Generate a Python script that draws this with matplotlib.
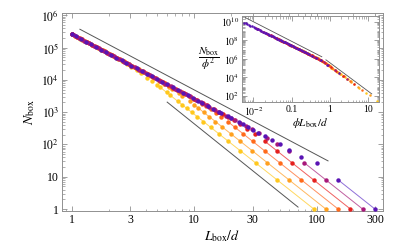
import numpy as np
import matplotlib
matplotlib.use("Agg")
import matplotlib.pyplot as plt
from matplotlib.ticker import LogLocator, NullFormatter

plt.rcParams['font.family'] = ['Liberation Serif', 'DejaVu Serif']
plt.rcParams['mathtext.fontset'] = 'stix'

# system size (L_box/d where N_box = 1) and volume fraction of each series
sizes = [95, 119, 150, 189, 238, 300]
phis = [0.186, 0.093, 0.0465, 0.0232, 0.0116, 0.0058]
colors = ['#FFC81E', '#FFA01E', '#FF6A1A', '#E4201E', '#A8187A', '#5A14B4']
line_colors = ['#FFD860', '#FFB860', '#FF9060', '#F06060', '#C060A0', '#9070D8']
# number of points (from N_box = 1) that sit on the full-occupancy line
n_full = [17, 12, 8, 5, 3, 2]

# box divisions per side (L_box = size / n)
div_small = [1, 2, 3, 4, 5, 6, 7, 8, 9, 10, 11, 12, 13, 15, 16, 18, 19, 21, 23,
             26, 28, 31, 34, 37, 41, 45, 50, 55, 61, 67, 73, 81, 89]
div_yellow = div_small + [95]
div_orange = div_small + [98, 108, 119]
div_orangered = div_small + [98, 108, 118, 130, 143, 150]
div_red = div_small + [98, 108, 118, 130, 143, 157, 173, 189]
div_magenta = div_small + [98, 108, 118, 130, 143, 157, 173, 190, 209, 230, 238]
div_purple = div_small + [98, 108, 118, 130, 143, 157, 173, 190, 209, 230, 253, 278, 300]

# occupied boxes
N_yellow = [1, 8, 27, 64, 125, 216, 343, 512, 729, 1000, 1331, 1728, 2197, 3375, 4096,
            5832, 6859, 9050, 11700, 16350, 19820, 25500, 31600, 38140, 47510, 57700,
            71580, 86860, 107000, 129200, 153500, 189000, 228200, 260000]
N_orange = [1, 8, 27, 64, 125, 216, 343, 512, 729, 1000, 1331, 1728, 2153, 3230, 3855,
            5250, 6005, 7611, 9344, 12175, 14207, 17520, 21180, 25135, 30860, 37180,
            45900, 55540, 68320, 82420, 97840, 120460, 145430, 176330, 214150, 260000]
N_orangered = [1, 8, 27, 64, 125, 216, 343, 512, 705, 943, 1213, 1509, 1826, 2520, 2893,
               3702, 4140, 5072, 6100, 7812, 9060, 11105, 13359, 15820, 19426, 23400,
               28890, 34960, 43000, 51870, 61580, 75820, 91530, 110980, 134790, 160900,
               195300, 236300, 260000]
N_red = [1, 8, 27, 64, 125, 206, 311, 432, 566, 711, 869, 1040, 1225, 1638, 1863, 2358,
         2628, 3210, 3851, 4921, 5707, 6995, 8415, 9965, 12240, 14740, 18200, 22020,
         27090, 32680, 38790, 47760, 57660, 69910, 84900, 101350, 123000, 148850,
         179420, 217850, 260000]
N_magenta = [1, 8, 27, 62, 106, 160, 223, 292, 372, 459, 555, 661, 776, 1033, 1175, 1487,
             1657, 2024, 2428, 3103, 3599, 4411, 5306, 6284, 7716, 9295, 11475, 13885,
             17080, 20600, 24460, 30120, 36360, 44080, 53540, 63910, 77570, 93860,
             113140, 137370, 165700, 200500, 242800, 260000]
N_purple = [1, 8, 26, 40, 68, 100, 140, 185, 234, 289, 350, 416, 488, 650, 740, 936, 1043,
            1274, 1528, 1953, 2265, 2776, 3340, 3955, 4856, 5850, 7222, 8739, 10750,
            12970, 15400, 18950, 22880, 27750, 33700, 40230, 48820, 59080, 71210, 86460,
            104290, 126190, 152820, 184920, 223260, 260000]

divs = [div_yellow, div_orange, div_orangered, div_red, div_magenta, div_purple]
counts = [N_yellow, N_orange, N_orangered, N_red, N_magenta, N_purple]

# guide lines (slope -2 and -3)
guide_main_x = [[1.16, 124], [6.0, 70.5]]
guide_main_y = [[3.7e5, 31], [2050, 1.15]]
guide_inset_x = [[0.00617, 0.617], [0.794, 12.6]]
guide_inset_y = [[2.69e10, 1.66e6], [7.76e5, 166]]

xtick_vals = [1, 3, 10, 30, 100, 300]
xtick_labels = ['1', '3', '10', '30', '100', '300']
ytick_vals = [1, 10, 1e2, 1e3, 1e4, 1e5, 1e6]
ytick_labels = ['1', '10', '$10^2$', '$10^3$', '$10^4$', '$10^5$', '$10^6$']
ins_xtick_vals = [0.01, 0.1, 1, 10]
ins_xtick_labels = ['$10^{-2}$', '0.1', '1', '10']
ins_ytick_vals = [1e2, 1e4, 1e6, 1e8, 1e10]
ins_ytick_labels = ['$10^2$', '$10^4$', '$10^6$', '$10^8$', '$10^{10}$']

fig = plt.figure(figsize=(4.07, 2.52), dpi=100)
ax = fig.add_axes([0.1523, 0.1627, 0.7887, 0.7853])
ins = fig.add_axes([0.5946, 0.595, 0.3366, 0.342])

frame_col = '#909090'


def style(a, size):
    a.set_xscale('log')
    a.set_yscale('log')
    for s in a.spines.values():
        s.set_color(frame_col)
        s.set_linewidth(0.7)
    a.tick_params(which='both', direction='in', top=True, right=True,
                  color=frame_col, labelsize=size, pad=2)
    a.tick_params(which='major', length=3.5, width=0.6)
    a.tick_params(which='minor', length=1.8, width=0.5)
    a.xaxis.set_minor_formatter(NullFormatter())
    a.yaxis.set_minor_formatter(NullFormatter())


style(ax, 8.5)
for i in range(len(sizes)):
    L = np.array(sizes[i]) / np.array(divs[i])
    N = np.array(counts[i])
    k = n_full[i]
    ax.plot(L[:k], N[:k], '-', color=line_colors[i], lw=0.7, zorder=2)
    ax.plot(L, N, 'o', color=colors[i], ms=3.2, mew=0, zorder=3)
for gx, gy in zip(guide_main_x, guide_main_y):
    ax.plot(gx, gy, '-', color='#555555', lw=0.7, zorder=1)

ax.set_xlim(0.828, 349)
ax.set_ylim(0.87, 1.17e6)
ax.set_xticks(xtick_vals)
ax.set_xticklabels(xtick_labels)
ax.xaxis.set_minor_locator(LogLocator(base=10, subs=np.arange(2, 10)))
ax.set_yticks(ytick_vals)
ax.set_yticklabels(ytick_labels)
ax.yaxis.set_minor_locator(LogLocator(base=10, subs=np.arange(2, 10)))
ax.set_xlabel('$L_{\\rm box}/d$', fontsize=10, labelpad=2)
ax.set_ylabel('$N_{\\rm box}$', fontsize=10, labelpad=3)

# inset: collapse
style(ins, 7)
ins.set_facecolor('white')
ins.set_zorder(5)
for i in range(len(sizes)):
    L = np.array(sizes[i]) / np.array(divs[i])
    N = np.array(counts[i])
    ins.plot(phis[i] * L, N / phis[i] ** 2, 'o', color=colors[i], ms=1.8, mew=0)
for gx, gy in zip(guide_inset_x, guide_inset_y):
    ins.plot(gx, gy, '-', color='#555555', lw=0.6)
ins.set_xlim(0.005, 19.5)
ins.set_ylim(22, 4.2e10)
ins.set_xticks(ins_xtick_vals)
ins.set_xticklabels(ins_xtick_labels)
ins.xaxis.set_minor_locator(LogLocator(base=10, subs=np.arange(2, 10)))
ins.set_yticks(ins_ytick_vals)
ins.set_yticklabels(ins_ytick_labels)
ins.yaxis.set_minor_locator(LogLocator(base=10, subs=np.arange(2, 10), numticks=20))
ins.set_xlabel('$\\phi L_{\\rm box}/d$', fontsize=8, labelpad=-1)
ins.set_ylabel('$\\dfrac{N_{\\rm box}}{\\phi^2}$', fontsize=8, rotation=0, labelpad=1,
               va='center', ha='right')

fig.savefig('out.png', dpi=100)
